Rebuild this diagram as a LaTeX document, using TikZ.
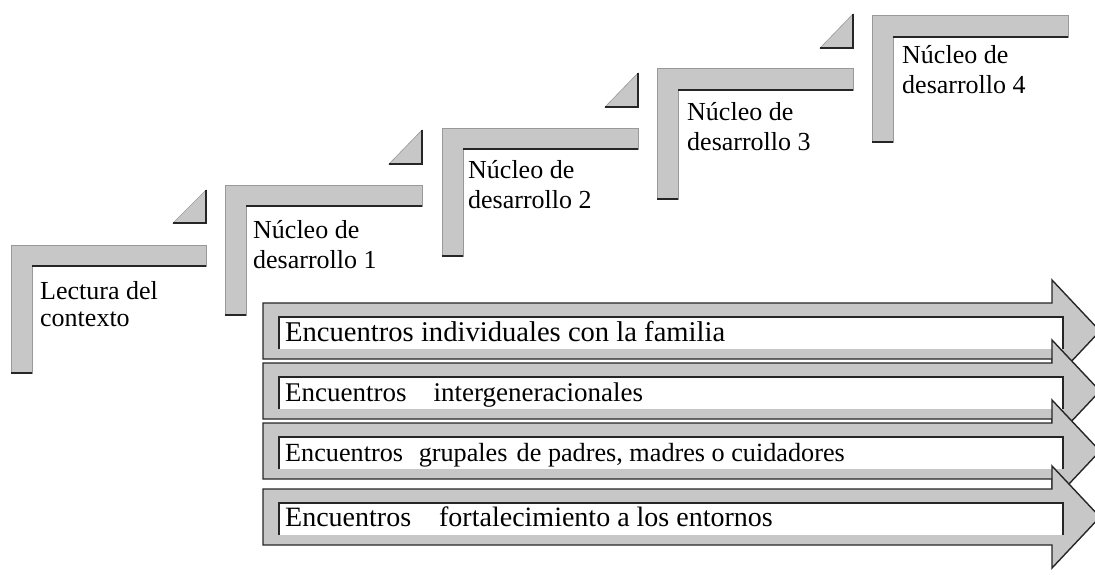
\documentclass[tikz,border=0pt]{standalone}
\usepackage{fontspec}
\setmainfont{Liberation Serif}
\usepackage{tikz}

\begin{document}
\begin{tikzpicture}[x=1pt, y=-1pt,
 bar/.style={fill=black!22, draw=black!40, line width=0.6pt},
 rim/.style={draw=black!85, line width=1.5pt},
 band/.style={fill=black!22, draw=black!85, line width=1.4pt},
 steplabel/.style={anchor=north west, inner sep=0pt, align=left,
   font=\fontsize{26}{30}\selectfont},
 arrowlabel/.style={anchor=base west, inner sep=0pt,
   font=\fontsize{28}{32}\selectfont}]
\useasboundingbox (0,0) rectangle (1095,574);
% Lectura del contexto
\path[bar] (11,245) -- (206,245) -- (206,266) -- (32,266) -- (32,373) -- (11,373) -- cycle;
\draw[rim] (32,266) -- (206,266);
\draw[rim] (11,373) -- (32,373);
\path[bar] (206,223) -- (206,190) -- (173,223) -- cycle;
\draw[rim] (173,223) -- (206,223) -- (206,190);
\node[steplabel, font=\fontsize{26}{27}\selectfont] (s0) at (40,281) {Lectura del\\contexto};
% Nucleo 1
\path[bar] (225,185) -- (422,185) -- (422,206) -- (246,206) -- (246,315) -- (225,315) -- cycle;
\draw[rim] (246,206) -- (422,206);
\draw[rim] (225,315) -- (246,315);
\path[bar] (422,164) -- (422,130) -- (389,164) -- cycle;
\draw[rim] (389,164) -- (422,164) -- (422,130);
\node[steplabel] (s1) at (253,220) {Núcleo de\\desarrollo 1};
% Nucleo 2
\path[bar] (442,128) -- (638,128) -- (638,149) -- (463,149) -- (463,256) -- (442,256) -- cycle;
\draw[rim] (463,149) -- (638,149);
\draw[rim] (442,256) -- (463,256);
\path[bar] (638,107) -- (638,73) -- (605,107) -- cycle;
\draw[rim] (605,107) -- (638,107) -- (638,73);
\node[steplabel] (s2) at (468,160) {Núcleo de\\desarrollo 2};
% Nucleo 3
\path[bar] (657,68) -- (853,68) -- (853,90) -- (678,90) -- (678,199) -- (657,199) -- cycle;
\draw[rim] (678,90) -- (853,90);
\draw[rim] (657,199) -- (678,199);
\path[bar] (853,48) -- (853,14) -- (820,48) -- cycle;
\draw[rim] (820,48) -- (853,48) -- (853,14);
\node[steplabel] (s3) at (687,102) {Núcleo de\\desarrollo 3};
% Nucleo 4
\path[bar] (872,15) -- (1068,15) -- (1068,37) -- (893,37) -- (893,142) -- (872,142) -- cycle;
\draw[rim] (893,37) -- (1068,37);
\draw[rim] (872,142) -- (893,142);
\node[steplabel] (s4) at (902,45) {Núcleo de\\desarrollo 4};
% Encuentros
\path[band] (263,303) -- (1052,303) -- (1052,280) -- (1100,331) -- (1052,382) -- (1052,359) -- (263,359) -- cycle;
\fill[white] (279,317) rectangle (1063,349);
\draw[rim] (279,349) -- (279,317) -- (1063,317) -- (1063,349);
\node[arrowlabel, font=\fontsize{28.6}{32}\selectfont] (e1) at (285,341) {Encuentros individuales con la familia};
\path[band] (263,363) -- (1052,363) -- (1052,340) -- (1100,391) -- (1052,442) -- (1052,419) -- (263,419) -- cycle;
\fill[white] (279,377) rectangle (1063,409);
\draw[rim] (279,409) -- (279,377) -- (1063,377) -- (1063,409);
\node[arrowlabel, font=\fontsize{27}{32}\selectfont] (e2) at (285,401) {Encuentros\quad intergeneracionales};
\path[band] (263,423) -- (1052,423) -- (1052,400) -- (1100,451) -- (1052,502) -- (1052,479) -- (263,479) -- cycle;
\fill[white] (279,437) rectangle (1063,469);
\draw[rim] (279,469) -- (279,437) -- (1063,437) -- (1063,469);
\node[arrowlabel, font=\fontsize{26.2}{32}\selectfont] (e3) at (285,461) {Encuentros\hspace{0.6em}grupales\hspace{0.35em}de padres, madres o cuidadores};
\path[band] (263,489) -- (1052,489) -- (1052,466) -- (1100,517) -- (1052,568) -- (1052,545) -- (263,545) -- cycle;
\fill[white] (279,503) rectangle (1063,535);
\draw[rim] (279,535) -- (279,503) -- (1063,503) -- (1063,535);
\node[arrowlabel] (e4) at (285,526) {Encuentros\quad fortalecimiento a los entornos};
\end{tikzpicture}
\end{document}
